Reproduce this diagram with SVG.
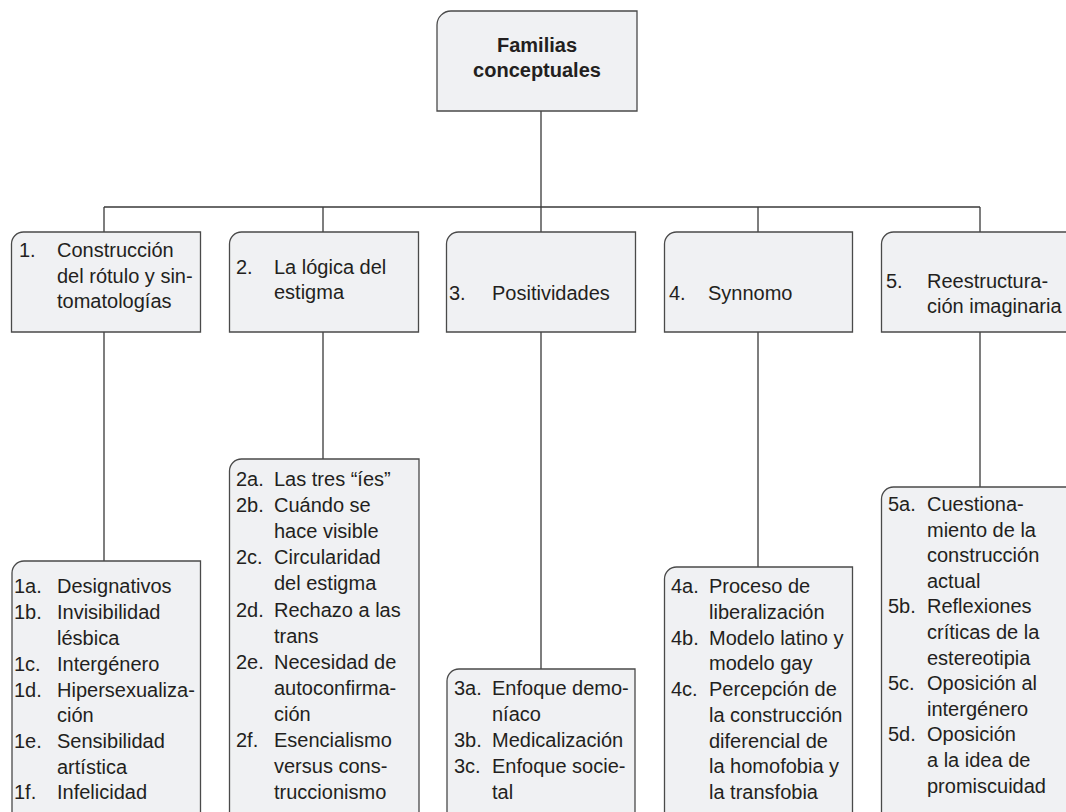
<svg xmlns="http://www.w3.org/2000/svg" width="1066" height="812" viewBox="0 0 1066 812">
<style>
.box{fill:#f0f1f3;stroke:#4a4a4a;stroke-width:1.3}
.ln{fill:none;stroke:#3a3a3a;stroke-width:1.3}
text{font-family:"Liberation Sans",Arial,sans-serif;font-size:20px;fill:#231f20}
.t{font-weight:bold;text-anchor:middle}
</style>
<rect width="1066" height="812" fill="#ffffff"/>
<g id="connectors">
<path class="ln" d="M541,111 V207 M104,207 H980 M104,207 V232 M323,207 V232 M541,207 V232 M758,207 V232 M980,207 V232"/>
<path class="ln" d="M104,332 V561 M323,332 V459 M541,332 V669 M758,332 V567 M980,332 V487"/>
</g>
<g id="root">
<path class="box" d="M437,111 V25 A14 14 0 0 1 451,11 H637 V111 Z"/>
<text class="t" x="537" y="52">Familias</text>
<text class="t" x="537" y="77">conceptuales</text>
</g>
<g id="n1">
<path class="box" d="M11.5,332 V244 A12 12 0 0 1 23.5,232 H200.5 V332 Z"/>
<text x="19" y="257">1.</text>
<text x="57" y="257">Construcción</text>
<text x="57" y="283">del rótulo y sin-</text>
<text x="57" y="308">tomatologías</text>
</g>
<g id="n2">
<path class="box" d="M229.5,332 V244 A12 12 0 0 1 241.5,232 H418.5 V332 Z"/>
<text x="236" y="274">2.</text>
<text x="274" y="274">La lógica del</text>
<text x="274" y="299">estigma</text>
</g>
<g id="n3">
<path class="box" d="M446.5,332 V244 A12 12 0 0 1 458.5,232 H635.5 V332 Z"/>
<text x="449" y="300">3.</text>
<text x="492" y="300">Positividades</text>
</g>
<g id="n4">
<path class="box" d="M664.5,332 V244 A12 12 0 0 1 676.5,232 H852.5 V332 Z"/>
<text x="669" y="300">4.</text>
<text x="708" y="300">Synnomo</text>
</g>
<g id="n5">
<path class="box" d="M881.5,332 V244 A12 12 0 0 1 893.5,232 H1076 V332 Z"/>
<text x="886" y="288">5.</text>
<text x="927" y="288">Reestructura-</text>
<text x="927" y="313">ción imaginaria</text>
</g>
<g id="n1x">
<path class="box" d="M12,822 V573 A12 12 0 0 1 24,561 H200.5 V822 Z"/>
<text x="14" y="593">1a.</text><text x="57" y="593">Designativos</text>
<text x="14" y="619">1b.</text><text x="57" y="619">Invisibilidad</text>
<text x="57" y="644.5">lésbica</text>
<text x="14" y="670.5">1c.</text><text x="57" y="670.5">Intergénero</text>
<text x="14" y="696.5">1d.</text><text x="57" y="696.5">Hipersexualiza-</text>
<text x="57" y="722">ción</text>
<text x="14" y="748">1e.</text><text x="57" y="748">Sensibilidad</text>
<text x="57" y="773.5">artística</text>
<text x="14" y="799">1f.</text><text x="57" y="799">Infelicidad</text>
</g>
<g id="n2x">
<path class="box" d="M229.5,822 V471 A12 12 0 0 1 241.5,459 H419 V822 Z"/>
<text x="236" y="486">2a.</text><text x="274" y="486">Las tres “íes”</text>
<text x="236" y="512">2b.</text><text x="274" y="512">Cuándo se</text>
<text x="274" y="538">hace visible</text>
<text x="236" y="564">2c.</text><text x="274" y="564">Circularidad</text>
<text x="274" y="590">del estigma</text>
<text x="236" y="616.5">2d.</text><text x="274" y="616.5">Rechazo a las</text>
<text x="274" y="642.5">trans</text>
<text x="236" y="668.5">2e.</text><text x="274" y="668.5">Necesidad de</text>
<text x="274" y="695">autoconfirma-</text>
<text x="274" y="721">ción</text>
<text x="236" y="747">2f.</text><text x="274" y="747">Esencialismo</text>
<text x="274" y="773">versus cons-</text>
<text x="274" y="799">truccionismo</text>
</g>
<g id="n3x">
<path class="box" d="M447,822 V681 A12 12 0 0 1 459,669 H635 V822 Z"/>
<text x="454" y="695">3a.</text><text x="492" y="695">Enfoque demo-</text>
<text x="492" y="721">níaco</text>
<text x="454" y="747">3b.</text><text x="492" y="747">Medicalización</text>
<text x="454" y="773">3c.</text><text x="492" y="773">Enfoque socie-</text>
<text x="492" y="799">tal</text>
</g>
<g id="n4x">
<path class="box" d="M664.5,822 V579 A12 12 0 0 1 676.5,567 H852.5 V822 Z"/>
<text x="671" y="593">4a.</text><text x="709" y="593">Proceso de</text>
<text x="709" y="619">liberalización</text>
<text x="671" y="644.5">4b.</text><text x="709" y="644.5">Modelo latino y</text>
<text x="709" y="670">modelo gay</text>
<text x="671" y="696">4c.</text><text x="709" y="696">Percepción de</text>
<text x="709" y="721.5">la construcción</text>
<text x="709" y="747.5">diferencial de</text>
<text x="709" y="773">la homofobia y</text>
<text x="709" y="799">la transfobia</text>
</g>
<g id="n5x">
<path class="box" d="M881.5,822 V499 A12 12 0 0 1 893.5,487 H1076 V822 Z"/>
<text x="888" y="511">5a.</text><text x="927" y="511">Cuestiona-</text>
<text x="927" y="536.5">miento de la</text>
<text x="927" y="562">construcción</text>
<text x="927" y="587.5">actual</text>
<text x="888" y="613">5b.</text><text x="927" y="613">Reflexiones</text>
<text x="927" y="639">críticas de la</text>
<text x="927" y="664.5">estereotipia</text>
<text x="888" y="690">5c.</text><text x="927" y="690">Oposición al</text>
<text x="927" y="715.5">intergénero</text>
<text x="888" y="741">5d.</text><text x="927" y="741">Oposición</text>
<text x="927" y="767">a la idea de</text>
<text x="927" y="792.5">promiscuidad</text>
</g>
</svg>
